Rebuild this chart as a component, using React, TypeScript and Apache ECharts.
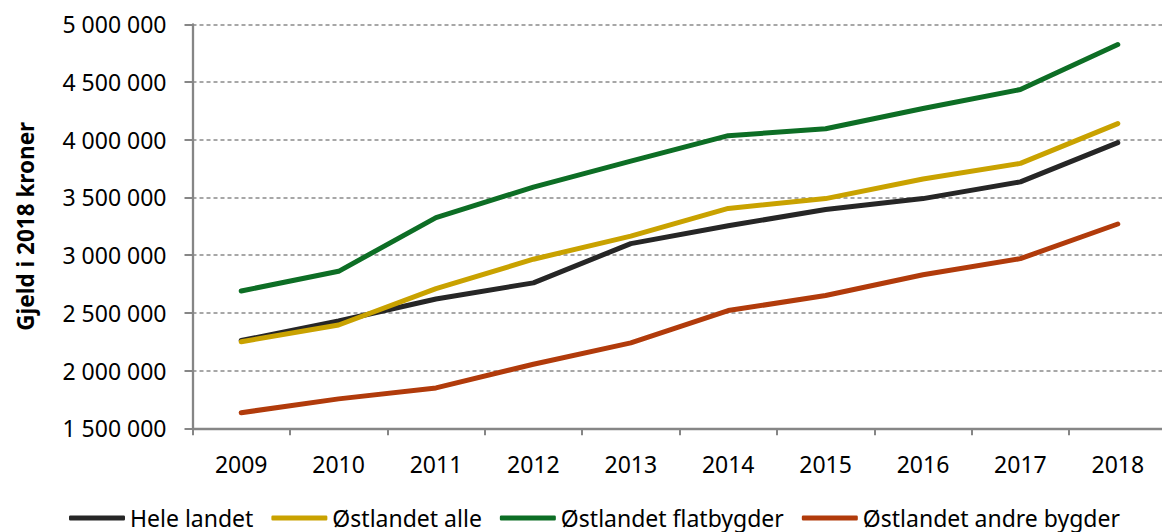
import React, { useEffect, useRef } from "react";
import * as echarts from "echarts";

const years = ["2009", "2010", "2011", "2012", "2013", "2014", "2015", "2016", "2017", "2018"];
const heleLandet = [2260000, 2430000, 2620000, 2760000, 3100000, 3255000, 3395000, 3490000, 3635000, 3975000];
const ostlandetAlle = [2250000, 2395000, 2710000, 2965000, 3165000, 3405000, 3490000, 3660000, 3795000, 4140000];
const ostlandetFlat = [2690000, 2860000, 3325000, 3590000, 3815000, 4035000, 4095000, 4270000, 4435000, 4825000];
const ostlandetAndre = [1635000, 1755000, 1850000, 2055000, 2240000, 2520000, 2650000, 2830000, 2970000, 3270000];

const seriesNames = ["Hele landet", "Østlandet alle", "Østlandet flatbygder", "Østlandet andre bygder"];
const seriesColors = ["#262626", "#C9A200", "#0D6E25", "#B13B0B"];
const seriesData = [heleLandet, ostlandetAlle, ostlandetFlat, ostlandetAndre];

const FONT = "'Noto Sans', sans-serif";

function fmt(v: number): string {
  return String(Math.round(v)).replace(/\B(?=(\d{3})+(?!\d))/g, " ");
}

export default function App() {
  const ref = useRef<HTMLDivElement>(null);
  useEffect(() => {
    if (!ref.current) return;
    const chart = echarts.init(ref.current, undefined, { renderer: "svg" });
    chart.setOption({
      animation: false,
      backgroundColor: "#ffffff",
      grid: { left: 192.5, right: 3.5, top: 24.3, bottom: 103.7, containLabel: false },
      legend: {
        left: 64,
        top: 500,
        icon: "roundRect",
        itemWidth: 56,
        itemHeight: 5,
        itemGap: 18,
        textStyle: { fontFamily: FONT, fontSize: 23, lineHeight: 26, color: "#000" },
        data: seriesNames,
      },
      xAxis: {
        type: "category",
        data: years,
        boundaryGap: true,
        axisLine: { lineStyle: { color: "#868686", width: 2.3 } },
        axisTick: { show: true, length: 7, lineStyle: { color: "#868686", width: 2 } },
        axisLabel: { fontFamily: FONT, fontSize: 23, color: "#000", margin: 24 },
      },
      yAxis: {
        type: "value",
        min: 1500000,
        max: 5000000,
        interval: 500000,
        name: "Gjeld i 2018 kroner",
        nameLocation: "middle",
        nameGap: 156,
        nameRotate: 90,
        nameTextStyle: { fontFamily: FONT, fontSize: 22.5, fontWeight: "bold", color: "#000" },
        axisLine: { show: true, lineStyle: { color: "#868686", width: 2.3 } },
        axisTick: { show: true, length: 8, lineStyle: { color: "#868686", width: 2 } },
        axisLabel: { fontFamily: FONT, fontSize: 23, color: "#000", margin: 26, formatter: (v: number) => fmt(v) },
        splitLine: { show: true, lineStyle: { color: "#8a8a8a", width: 1.5, type: [4, 3] } },
      },
      series: seriesNames.map((name, i) => ({
        name,
        type: "line",
        data: seriesData[i],
        symbol: "none",
        color: seriesColors[i],
        itemStyle: { color: seriesColors[i] },
        lineStyle: { color: seriesColors[i], width: 5, cap: "round", join: "round" },
      })),
    });
    return () => chart.dispose();
  }, []);
  return (
    <div style={{ position: "absolute", left: 0, top: 0, width: 1162, height: 532, overflow: "hidden" }}>
      <div ref={ref} style={{ width: 1170, height: 532 }} />
    </div>
  );
}
